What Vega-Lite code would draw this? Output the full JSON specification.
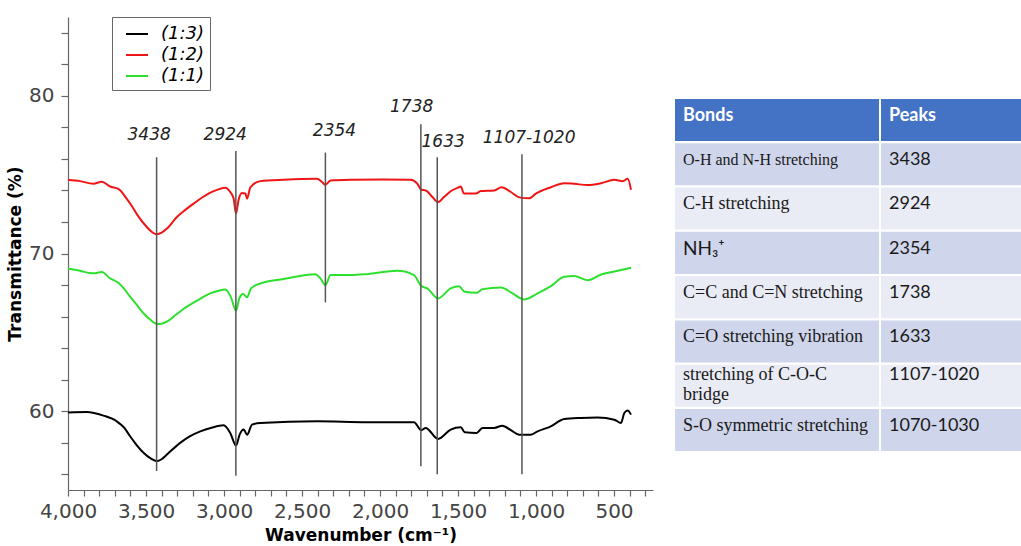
{
  "$schema": "https://vega.github.io/schema/vega-lite/v6.json",
  "padding": {"left": 6, "top": 16, "right": 0, "bottom": 0},
  "spacing": 22,
  "config": {
    "view": {"stroke": null},
    "axis": {
      "grid": false,
      "domainColor": "#666666",
      "domainWidth": 1.2,
      "tickColor": "#666666",
      "tickWidth": 1.2,
      "tickSize": 6,
      "labelFont": "DejaVu Sans",
      "labelFontSize": 20,
      "labelColor": "#444444",
      "labelPadding": 5,
      "titleFont": "DejaVu Sans",
      "titleFontSize": 17,
      "titleFontWeight": "bold",
      "titleColor": "#000000"
    },
    "legend": {
      "orient": "none",
      "legendX": 44,
      "legendY": 0,
      "strokeColor": "#666666",
      "fillColor": "#ffffff",
      "padding": 5,
      "symbolType": "stroke",
      "symbolSize": 484,
      "symbolStrokeWidth": 2,
      "symbolOffset": 8,
      "labelOffset": 12,
      "rowPadding": 0,
      "labelFont": "DejaVu Sans",
      "labelFontStyle": "italic",
      "labelFontSize": 18,
      "labelColor": "#000000"
    }
  },
  "datasets": {
    "spectra": [
      {"s": "(1:2)", "w": 4000, "t": 74.68}, {"s": "(1:2)", "w": 3923, "t": 74.59}, {"s": "(1:2)", "w": 3837, "t": 74.42},
      {"s": "(1:2)", "w": 3784, "t": 74.55}, {"s": "(1:2)", "w": 3730, "t": 74.25}, {"s": "(1:2)", "w": 3677, "t": 74.10},
      {"s": "(1:2)", "w": 3623, "t": 73.47}, {"s": "(1:2)", "w": 3590, "t": 73.0}, {"s": "(1:2)", "w": 3559, "t": 72.5},
      {"s": "(1:2)", "w": 3495, "t": 71.68}, {"s": "(1:2)", "w": 3460, "t": 71.35}, {"s": "(1:2)", "w": 3430, "t": 71.22},
      {"s": "(1:2)", "w": 3400, "t": 71.32}, {"s": "(1:2)", "w": 3366, "t": 71.58}, {"s": "(1:2)", "w": 3302, "t": 72.31},
      {"s": "(1:2)", "w": 3250, "t": 72.75}, {"s": "(1:2)", "w": 3195, "t": 73.16}, {"s": "(1:2)", "w": 3140, "t": 73.55},
      {"s": "(1:2)", "w": 3088, "t": 73.86}, {"s": "(1:2)", "w": 3040, "t": 74.05}, {"s": "(1:2)", "w": 2992, "t": 74.17},
      {"s": "(1:2)", "w": 2960, "t": 73.9}, {"s": "(1:2)", "w": 2938, "t": 73.48}, {"s": "(1:2)", "w": 2923, "t": 72.53},
      {"s": "(1:2)", "w": 2907, "t": 73.37}, {"s": "(1:2)", "w": 2885, "t": 73.83}, {"s": "(1:2)", "w": 2863, "t": 73.8},
      {"s": "(1:2)", "w": 2852, "t": 73.48}, {"s": "(1:2)", "w": 2831, "t": 74.2}, {"s": "(1:2)", "w": 2767, "t": 74.59},
      {"s": "(1:2)", "w": 2617, "t": 74.68}, {"s": "(1:2)", "w": 2403, "t": 74.74}, {"s": "(1:2)", "w": 2371, "t": 74.53},
      {"s": "(1:2)", "w": 2350, "t": 74.36}, {"s": "(1:2)", "w": 2317, "t": 74.63}, {"s": "(1:2)", "w": 2189, "t": 74.68},
      {"s": "(1:2)", "w": 1975, "t": 74.7}, {"s": "(1:2)", "w": 1803, "t": 74.68}, {"s": "(1:2)", "w": 1760, "t": 74.42},
      {"s": "(1:2)", "w": 1735, "t": 74.04}, {"s": "(1:2)", "w": 1707, "t": 74.0}, {"s": "(1:2)", "w": 1664, "t": 73.58},
      {"s": "(1:2)", "w": 1628, "t": 73.26}, {"s": "(1:2)", "w": 1590, "t": 73.58}, {"s": "(1:2)", "w": 1547, "t": 73.95},
      {"s": "(1:2)", "w": 1494, "t": 74.2}, {"s": "(1:2)", "w": 1482, "t": 74.25}, {"s": "(1:2)", "w": 1462, "t": 73.8},
      {"s": "(1:2)", "w": 1386, "t": 73.8}, {"s": "(1:2)", "w": 1354, "t": 73.96}, {"s": "(1:2)", "w": 1268, "t": 74.0},
      {"s": "(1:2)", "w": 1221, "t": 74.2}, {"s": "(1:2)", "w": 1161, "t": 73.9}, {"s": "(1:2)", "w": 1108, "t": 73.56},
      {"s": "(1:2)", "w": 1044, "t": 73.5}, {"s": "(1:2)", "w": 1001, "t": 73.8}, {"s": "(1:2)", "w": 905, "t": 74.2},
      {"s": "(1:2)", "w": 819, "t": 74.46}, {"s": "(1:2)", "w": 755, "t": 74.42}, {"s": "(1:2)", "w": 669, "t": 74.34},
      {"s": "(1:2)", "w": 583, "t": 74.46}, {"s": "(1:2)", "w": 498, "t": 74.68}, {"s": "(1:2)", "w": 444, "t": 74.59},
      {"s": "(1:2)", "w": 412, "t": 74.74}, {"s": "(1:2)", "w": 391, "t": 74.04},

      {"s": "(1:1)", "w": 4000, "t": 69.05}, {"s": "(1:1)", "w": 3923, "t": 68.9}, {"s": "(1:1)", "w": 3837, "t": 68.74},
      {"s": "(1:1)", "w": 3784, "t": 68.82}, {"s": "(1:1)", "w": 3730, "t": 68.42}, {"s": "(1:1)", "w": 3677, "t": 68.14},
      {"s": "(1:1)", "w": 3640, "t": 67.75}, {"s": "(1:1)", "w": 3602, "t": 67.26}, {"s": "(1:1)", "w": 3560, "t": 66.75},
      {"s": "(1:1)", "w": 3516, "t": 66.21}, {"s": "(1:1)", "w": 3470, "t": 65.78}, {"s": "(1:1)", "w": 3430, "t": 65.53},
      {"s": "(1:1)", "w": 3400, "t": 65.55}, {"s": "(1:1)", "w": 3366, "t": 65.68}, {"s": "(1:1)", "w": 3302, "t": 66.16},
      {"s": "(1:1)", "w": 3250, "t": 66.55}, {"s": "(1:1)", "w": 3195, "t": 66.88}, {"s": "(1:1)", "w": 3140, "t": 67.2},
      {"s": "(1:1)", "w": 3088, "t": 67.47}, {"s": "(1:1)", "w": 3040, "t": 67.62}, {"s": "(1:1)", "w": 2992, "t": 67.72},
      {"s": "(1:1)", "w": 2955, "t": 67.22}, {"s": "(1:1)", "w": 2923, "t": 66.37}, {"s": "(1:1)", "w": 2902, "t": 67.15},
      {"s": "(1:1)", "w": 2878, "t": 67.43}, {"s": "(1:1)", "w": 2852, "t": 67.22}, {"s": "(1:1)", "w": 2827, "t": 67.79},
      {"s": "(1:1)", "w": 2767, "t": 68.1}, {"s": "(1:1)", "w": 2617, "t": 68.38}, {"s": "(1:1)", "w": 2415, "t": 68.69},
      {"s": "(1:1)", "w": 2382, "t": 68.42}, {"s": "(1:1)", "w": 2350, "t": 68.0}, {"s": "(1:1)", "w": 2317, "t": 68.63},
      {"s": "(1:1)", "w": 2189, "t": 68.63}, {"s": "(1:1)", "w": 2082, "t": 68.69}, {"s": "(1:1)", "w": 1889, "t": 68.9},
      {"s": "(1:1)", "w": 1782, "t": 68.63}, {"s": "(1:1)", "w": 1735, "t": 67.93}, {"s": "(1:1)", "w": 1697, "t": 67.79},
      {"s": "(1:1)", "w": 1628, "t": 67.15}, {"s": "(1:1)", "w": 1547, "t": 67.79}, {"s": "(1:1)", "w": 1494, "t": 67.93},
      {"s": "(1:1)", "w": 1457, "t": 67.57}, {"s": "(1:1)", "w": 1380, "t": 67.51}, {"s": "(1:1)", "w": 1343, "t": 67.74},
      {"s": "(1:1)", "w": 1225, "t": 67.85}, {"s": "(1:1)", "w": 1150, "t": 67.47}, {"s": "(1:1)", "w": 1076, "t": 67.09},
      {"s": "(1:1)", "w": 990, "t": 67.47}, {"s": "(1:1)", "w": 905, "t": 67.93}, {"s": "(1:1)", "w": 819, "t": 68.52},
      {"s": "(1:1)", "w": 755, "t": 68.57}, {"s": "(1:1)", "w": 669, "t": 68.31}, {"s": "(1:1)", "w": 583, "t": 68.67},
      {"s": "(1:1)", "w": 476, "t": 68.9}, {"s": "(1:1)", "w": 391, "t": 69.09},

      {"s": "(1:3)", "w": 4000, "t": 59.92}, {"s": "(1:3)", "w": 3880, "t": 59.95}, {"s": "(1:3)", "w": 3773, "t": 59.72},
      {"s": "(1:3)", "w": 3688, "t": 59.36}, {"s": "(1:3)", "w": 3640, "t": 58.95}, {"s": "(1:3)", "w": 3602, "t": 58.41},
      {"s": "(1:3)", "w": 3560, "t": 57.85}, {"s": "(1:3)", "w": 3516, "t": 57.36}, {"s": "(1:3)", "w": 3470, "t": 57.0},
      {"s": "(1:3)", "w": 3430, "t": 56.83}, {"s": "(1:3)", "w": 3400, "t": 56.95}, {"s": "(1:3)", "w": 3366, "t": 57.25},
      {"s": "(1:3)", "w": 3281, "t": 57.99}, {"s": "(1:3)", "w": 3220, "t": 58.4}, {"s": "(1:3)", "w": 3152, "t": 58.72},
      {"s": "(1:3)", "w": 3080, "t": 58.95}, {"s": "(1:3)", "w": 3003, "t": 59.1}, {"s": "(1:3)", "w": 2960, "t": 58.62},
      {"s": "(1:3)", "w": 2923, "t": 57.82}, {"s": "(1:3)", "w": 2900, "t": 58.51}, {"s": "(1:3)", "w": 2874, "t": 58.83},
      {"s": "(1:3)", "w": 2852, "t": 58.51}, {"s": "(1:3)", "w": 2820, "t": 59.15}, {"s": "(1:3)", "w": 2767, "t": 59.25},
      {"s": "(1:3)", "w": 2403, "t": 59.36}, {"s": "(1:3)", "w": 2082, "t": 59.3}, {"s": "(1:3)", "w": 1782, "t": 59.3},
      {"s": "(1:3)", "w": 1735, "t": 58.79}, {"s": "(1:3)", "w": 1707, "t": 58.94}, {"s": "(1:3)", "w": 1628, "t": 58.24},
      {"s": "(1:3)", "w": 1547, "t": 58.83}, {"s": "(1:3)", "w": 1482, "t": 58.98}, {"s": "(1:3)", "w": 1457, "t": 58.66},
      {"s": "(1:3)", "w": 1380, "t": 58.62}, {"s": "(1:3)", "w": 1343, "t": 58.94}, {"s": "(1:3)", "w": 1268, "t": 58.94},
      {"s": "(1:3)", "w": 1215, "t": 59.08}, {"s": "(1:3)", "w": 1161, "t": 58.79}, {"s": "(1:3)", "w": 1108, "t": 58.51},
      {"s": "(1:3)", "w": 1033, "t": 58.51}, {"s": "(1:3)", "w": 990, "t": 58.72}, {"s": "(1:3)", "w": 905, "t": 59.04},
      {"s": "(1:3)", "w": 819, "t": 59.5}, {"s": "(1:3)", "w": 712, "t": 59.57}, {"s": "(1:3)", "w": 605, "t": 59.6},
      {"s": "(1:3)", "w": 498, "t": 59.46}, {"s": "(1:3)", "w": 455, "t": 59.25}, {"s": "(1:3)", "w": 434, "t": 59.88},
      {"s": "(1:3)", "w": 412, "t": 60.05}, {"s": "(1:3)", "w": 391, "t": 59.78}
    ],
    "peaks": [
      {"label": "3438", "w": 3432, "top": 76.1, "bottom": 56.2, "lw": 3480, "lt": 77.5},
      {"label": "2924", "w": 2924, "top": 76.5, "bottom": 55.9, "lw": 2992, "lt": 77.5},
      {"label": "2354", "w": 2350, "top": 76.4, "bottom": 66.9, "lw": 2292, "lt": 77.8},
      {"label": "1738", "w": 1738, "top": 78.2, "bottom": 56.5, "lw": 1797, "lt": 79.3},
      {"label": "1633", "w": 1633, "top": 76.1, "bottom": 56.0, "lw": 1595, "lt": 77.05},
      {"label": "1107-1020", "w": 1090, "top": 76.3, "bottom": 56.0, "lw": 1044, "lt": 77.3}
    ],
    "table": [
      {"row": 0, "bond": "Bonds", "peak": "Peaks"},
      {"row": 1, "bond": "O-H and N-H stretching", "peak": "3438"},
      {"row": 2, "bond": "C-H stretching", "peak": "2924"},
      {"row": 3, "bond": "NH₃⁺", "peak": "2354"},
      {"row": 4, "bond": "C=C and C=N stretching", "peak": "1738"},
      {"row": 5, "bond": "C=O stretching vibration", "peak": "1633"},
      {"row": 6, "bond": "stretching of C-O-C\nbridge", "peak": "1107-1020"},
      {"row": 7, "bond": "S-O symmetric stretching", "peak": "1070-1030"}
    ]
  },
  "hconcat": [
    {
      "width": 585,
      "height": 473,
      "layer": [
        {
          "data": {"name": "spectra"},
          "mark": {"type": "line", "strokeWidth": 2, "interpolate": "monotone"},
          "encoding": {
            "x": {
              "field": "w", "type": "quantitative",
              "scale": {"domain": [250, 4000], "reverse": true, "nice": false, "zero": false},
              "axis": {
                "title": "Wavenumber (cm⁻¹)",
                "values": [4000, 3900, 3800, 3700, 3600, 3500, 3400, 3300, 3200, 3100, 3000, 2900, 2800, 2700, 2600, 2500, 2400, 2300, 2200, 2100, 2000, 1900, 1800, 1700, 1600, 1500, 1400, 1300, 1200, 1100, 1000, 900, 800, 700, 600, 500, 400, 300],
                "tickCount": 200,
                "labelExpr": "datum.value % 500 === 0 ? format(datum.value, ',') : ''",
                "labelOverlap": false,
                "labelFlush": false,
                "titlePadding": 6
              }
            },
            "y": {
              "field": "t", "type": "quantitative",
              "scale": {"domain": [55, 85], "nice": false, "zero": false},
              "axis": {
                "title": "Transmittance (%)",
                "values": [56, 58, 60, 62, 64, 66, 68, 70, 72, 74, 76, 78, 80, 82, 84],
                "tickCount": 100,
                "labelExpr": "datum.value % 10 === 0 ? format(datum.value, 'd') : ''",
                "labelOverlap": false,
                "tickSize": 7,
                "labelPadding": 7,
                "titlePadding": 4
              }
            },
            "color": {
              "field": "s", "type": "nominal",
              "scale": {"domain": ["(1:3)", "(1:2)", "(1:1)"], "range": ["#000000", "#f01515", "#2ee02e"]},
              "legend": {"title": null}
            }
          }
        },
        {
          "data": {"name": "peaks"},
          "mark": {"type": "rule", "color": "#555555", "strokeWidth": 1.5},
          "encoding": {
            "x": {"field": "w", "type": "quantitative"},
            "y": {"field": "top", "type": "quantitative"},
            "y2": {"field": "bottom"}
          }
        },
        {
          "data": {"name": "peaks"},
          "mark": {"type": "text", "font": "DejaVu Sans", "fontStyle": "italic", "fontSize": 17, "color": "#222222", "baseline": "middle", "align": "center"},
          "encoding": {
            "x": {"field": "lw", "type": "quantitative"},
            "y": {"field": "lt", "type": "quantitative"},
            "text": {"field": "label"}
          }
        }
      ]
    },
    {
      "spacing": 2,
      "hconcat": [
        {
          "width": 204,
          "height": 473,
          "data": {"name": "table"},
          "transform": [
            {"fold": ["bond", "peak"], "as": ["key", "value"]},
            {"filter": "datum.key === 'bond'"}
          ],
          "encoding": {
            "y": {"field": "row", "type": "ordinal", "axis": null, "scale": {"range": [82, 434], "paddingInner": 0.05, "paddingOuter": 0}},
            "x": {"field": "key", "type": "nominal", "axis": null, "scale": {"paddingInner": 0, "paddingOuter": 0}}
          },
          "layer": [
            {
              "mark": {"type": "rect"},
              "encoding": {
                "color": {
                  "condition": [
                    {"test": "datum.row === 0", "value": "#4472C4"},
                    {"test": "datum.row % 2 === 1", "value": "#CFD5EA"}
                  ],
                  "value": "#E9EBF5"
                }
              }
            },
            {
              "transform": [{"filter": "datum.row === 0"}],
              "mark": {"type": "text", "font": "Lato", "fontWeight": "bold", "fontSize": 18, "color": "#ffffff", "align": "left", "baseline": "middle", "dx": 8},
              "encoding": {
                "x": {"field": "key", "type": "nominal", "bandPosition": 0},
                "y": {"field": "row", "type": "ordinal", "bandPosition": 0.4},
                "text": {"field": "value"}
              }
            },
            {
              "transform": [{"filter": "datum.row > 0 && datum.row !== 3 && datum.row !== 6"}],
              "mark": {"type": "text", "font": "Liberation Serif", "color": "#1a1a1a", "align": "left", "baseline": "middle", "dx": 8},
              "encoding": {
                "x": {"field": "key", "type": "nominal", "bandPosition": 0},
                "y": {"field": "row", "type": "ordinal", "bandPosition": 0.4},
                "text": {"field": "value"},
                "size": {"condition": {"test": "datum.row === 1", "value": 16}, "value": 18}
              }
            },
            {
              "transform": [{"filter": "datum.row === 6"}],
              "mark": {"type": "text", "font": "Liberation Serif", "fontSize": 18, "color": "#1a1a1a", "align": "left", "baseline": "middle", "dx": 8, "lineBreak": "\n", "lineHeight": 20},
              "encoding": {
                "x": {"field": "key", "type": "nominal", "bandPosition": 0},
                "y": {"field": "row", "type": "ordinal", "bandPosition": 0.25},
                "text": {"field": "value"}
              }
            },
            {
              "transform": [{"filter": "datum.row === 3"}],
              "mark": {"type": "text", "font": "Lato, DejaVu Sans", "fontSize": 19, "color": "#1a1a1a", "align": "left", "baseline": "middle", "dx": 8},
              "encoding": {
                "x": {"field": "key", "type": "nominal", "bandPosition": 0},
                "y": {"field": "row", "type": "ordinal", "bandPosition": 0.4},
                "text": {"field": "value"}
              }
            }
          ]
        },
        {
          "width": 140,
          "height": 473,
          "data": {"name": "table"},
          "transform": [
            {"fold": ["bond", "peak"], "as": ["key", "value"]},
            {"filter": "datum.key === 'peak'"}
          ],
          "encoding": {
            "y": {"field": "row", "type": "ordinal", "axis": null, "scale": {"range": [82, 434], "paddingInner": 0.05, "paddingOuter": 0}},
            "x": {"field": "key", "type": "nominal", "axis": null, "scale": {"paddingInner": 0, "paddingOuter": 0}}
          },
          "layer": [
            {
              "mark": {"type": "rect"},
              "encoding": {
                "color": {
                  "condition": [
                    {"test": "datum.row === 0", "value": "#4472C4"},
                    {"test": "datum.row % 2 === 1", "value": "#CFD5EA"}
                  ],
                  "value": "#E9EBF5"
                }
              }
            },
            {
              "transform": [{"filter": "datum.row === 0"}],
              "mark": {"type": "text", "font": "Lato", "fontWeight": "bold", "fontSize": 18, "color": "#ffffff", "align": "left", "baseline": "middle", "dx": 8},
              "encoding": {
                "x": {"field": "key", "type": "nominal", "bandPosition": 0},
                "y": {"field": "row", "type": "ordinal", "bandPosition": 0.4},
                "text": {"field": "value"}
              }
            },
            {
              "transform": [{"filter": "datum.row > 0 && datum.row !== 6"}],
              "mark": {"type": "text", "font": "Lato", "fontSize": 18, "color": "#1a1a1a", "align": "left", "baseline": "middle", "dx": 8},
              "encoding": {
                "x": {"field": "key", "type": "nominal", "bandPosition": 0},
                "y": {"field": "row", "type": "ordinal", "bandPosition": 0.4},
                "text": {"field": "value"}
              }
            },
            {
              "transform": [{"filter": "datum.row === 6"}],
              "mark": {"type": "text", "font": "Lato", "fontSize": 18, "color": "#1a1a1a", "align": "left", "baseline": "middle", "dx": 8},
              "encoding": {
                "x": {"field": "key", "type": "nominal", "bandPosition": 0},
                "y": {"field": "row", "type": "ordinal", "bandPosition": 0.25},
                "text": {"field": "value"}
              }
            }
          ]
        }
      ]
    }
  ]
}
